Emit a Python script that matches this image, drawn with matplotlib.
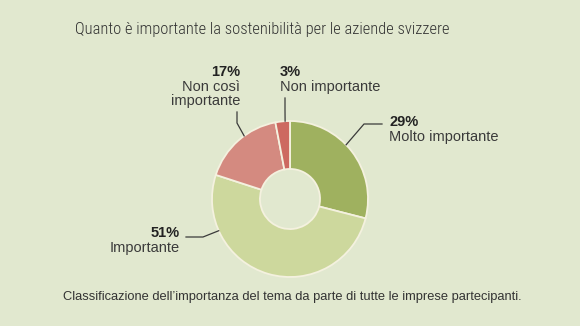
import matplotlib.pyplot as plt
import numpy as np

# data
labels = ["Molto importante", "Importante", "Non così\nimportante", "Non importante"]
values = [29, 51, 17, 3]
colors = ["#9fb15f", "#cdd89d", "#d48a80", "#cd6960"]

bg = "#e1e8cf"
W, H = 580, 326

fig = plt.figure(figsize=(5.8, 3.26), dpi=100, facecolor=bg)
ax = fig.add_axes([0, 0, 1, 1])
ax.set_facecolor(bg)

# pie center / radius in pixel space (y up)
cx, cy, R = 290, 326 - 199, 78
wedges, _ = ax.pie(values, colors=colors, startangle=90, counterclock=False,
                   center=(cx, cy), radius=R,
                   wedgeprops=dict(width=R * 0.615, edgecolor="#f4f1df", linewidth=1.3))
ax.set_xlim(0, W)
ax.set_ylim(0, H)
ax.set_aspect("equal")
ax.axis("off")

def edge(angle_deg):
    a = np.radians(angle_deg)
    return cx + R * np.cos(a), cy + R * np.sin(a)

lc = "#3a3a3a"
# leader lines: attach angle, elbow, end (pixel coords, y down)
leaders = [
    (44, (364, 124), (382, 124)),
    (204, (203, 237), (186, 237)),
    (126, (237, 123), (237, 112)),
    (93.6, (285, 110), (285, 98)),
]
for ang, p1, p2 in leaders:
    x0, y0 = edge(ang)
    ax.plot([x0, p1[0], p2[0]], [y0, H - p1[1], H - p2[1]], color=lc, lw=0.9)

fam = ["Liberation Sans", "DejaVu Sans"]
fs = 10.5
# (pct position, alignment)
label_pos = [
    (389, 122, "left"),
    (180, 233, "right"),
    (240, 72, "right"),
    (280, 72, "left"),
]
for (x, y, ha), v, lab in zip(label_pos, values, labels):
    ax.text(x, H - y, f"{v}%", ha=ha, va="center", fontsize=fs,
            fontweight="bold", color="#222222", family=fam)
    ax.text(x, H - y - 8, lab, ha=ha, va="top", fontsize=fs,
            color="#3a3a3a", family=fam, linespacing=1.0)

ax.text(262, H - 29.5, "Quanto è importante la sostenibilità per le aziende svizzere",
        ha="center", va="center", fontsize=11.9, color="#333333",
        family=["Roboto Condensed", "Open Sans Condensed", "DejaVu Sans Condensed", "Roboto"],
        fontstretch="condensed", fontweight="light")

ax.text(292, H - 297,
        "Classificazione dell\u2019importanza del tema da parte di tutte le imprese partecipanti.",
        ha="center", va="center", fontsize=9.3, color="#333333", family=fam)

fig.savefig("out.png", dpi=100, facecolor=bg)
